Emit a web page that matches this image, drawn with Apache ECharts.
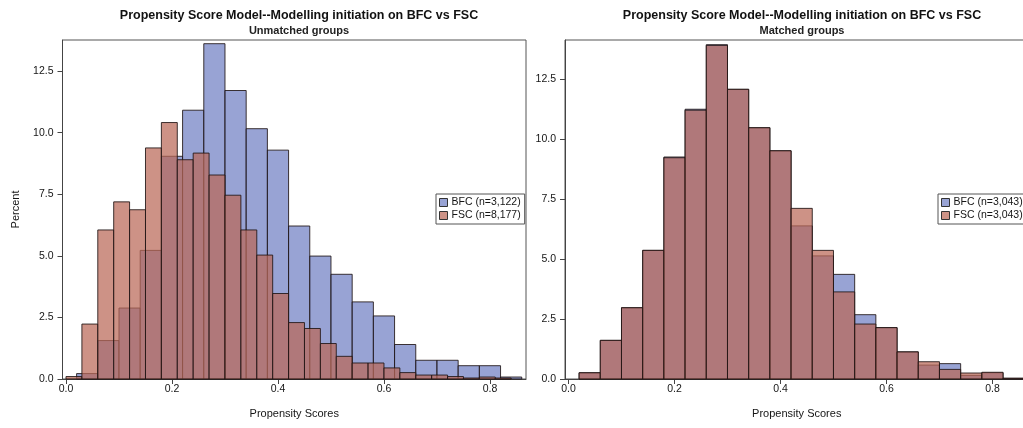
<!DOCTYPE html>
<html><head><meta charset="utf-8">
<script src="https://cdn.jsdelivr.net/npm/echarts@6/dist/echarts.min.js"></script>
<style>html,body{margin:0;padding:0;background:#fff}#c{width:1023px;height:428px}</style>
</head><body><div id="c"></div>
<script>
// ---- data ----
const mainTitle = 'Propensity Score Model--Modelling initiation on BFC vs FSC';
const leftSubtitle = 'Unmatched groups';
const rightSubtitle = 'Matched groups';
const xName = 'Propensity Scores';
const yName = 'Percent';
const xTickValues = [0, 0.2, 0.4, 0.6, 0.8];
const yTickValues = [0, 2.5, 5, 7.5, 10, 12.5];

const leftBfcName = 'BFC (n=3,122)';
const leftFscName = 'FSC (n=8,177)';
const rightBfcName = 'BFC (n=3,043)';
const rightFscName = 'FSC (n=3,043)';

// Unmatched BFC: bin width 0.04
const leftBfcWidth = 0.04;
const leftBfcStart = [0.02,0.06,0.10,0.14,0.18,0.22,0.26,0.30,0.34,0.38,0.42,0.46,0.50,0.54,0.58,0.62,0.66,0.70,0.74,0.78,0.82];
const leftBfcPct   = [0.22,1.56,2.88,5.22,9.04,10.91,13.61,11.71,10.16,9.29,6.21,4.99,4.25,3.13,2.56,1.40,0.76,0.76,0.54,0.54,0.08];

// Unmatched FSC: bin width 0.03
const leftFscWidth = 0.03;
const leftFscStart = [0.00,0.03,0.06,0.09,0.12,0.15,0.18,0.21,0.24,0.27,0.30,0.33,0.36,0.39,0.42,0.45,0.48,0.51,0.54,0.57,0.60,0.63,0.66,0.69,0.72,0.75,0.78,0.81];
const leftFscPct   = [0.10,2.23,6.05,7.19,6.87,9.38,10.41,8.90,9.17,8.28,7.46,6.05,5.03,3.47,2.29,2.05,1.44,0.92,0.65,0.65,0.45,0.26,0.16,0.16,0.10,0.04,0.08,0.04];

// Matched: bin width 0.04 for both
const rightWidth = 0.04;
const rightStart = [0.02,0.06,0.10,0.14,0.18,0.22,0.26,0.30,0.34,0.38,0.42,0.46,0.50,0.54,0.58,0.62,0.66,0.70,0.74,0.78,0.82];
const rightBfcPct = [0.26,1.61,2.97,5.36,9.25,11.24,13.93,12.07,10.47,9.51,6.38,5.13,4.36,2.68,2.14,1.13,0.58,0.64,0.15,0.26,0.03];
const rightFscPct = [0.26,1.61,2.97,5.36,9.22,11.20,13.90,12.07,10.47,9.51,7.11,5.36,3.63,2.29,2.14,1.13,0.72,0.40,0.25,0.28,0.03];

// ---- styling ----
const FONT = 'Liberation Sans, Arial, sans-serif';
const blueFill = 'rgba(112,127,195,0.72)';
const redFill = 'rgba(186,104,88,0.72)';
const edge = 'rgba(30,20,20,0.85)';

function toBins(starts, width, vals) {
  return starts.map((s, i) => [s, +(s + width).toFixed(4), vals[i]]);
}
function renderItem(params, api) {
  const p0 = api.coord([api.value(0), api.value(2)]);
  const p1 = api.coord([api.value(1), 0]);
  return {
    type: 'rect',
    shape: { x: p0[0], y: p0[1], width: p1[0] - p0[0], height: p1[1] - p0[1] },
    style: api.style()
  };
}
function histSeries(name, idx, data, fill) {
  return {
    type: 'custom', name: name, xAxisIndex: idx, yAxisIndex: idx,
    renderItem: renderItem, data: data,
    encode: { x: [0, 1], y: 2 },
    itemStyle: { color: fill, borderColor: edge, borderWidth: 1 },
    silent: true, animation: false
  };
}
function xAxisCfg(idx) {
  return {
    type: 'value', gridIndex: idx, min: -0.0066, max: 0.868,
    name: xName, nameLocation: 'middle', nameGap: 29,
    nameTextStyle: { fontFamily: FONT, fontSize: 11, color: '#151515' },
    splitLine: { show: false },
    axisLine: { show: true, onZero: false, lineStyle: { color: '#444', width: 1 } },
    axisTick: { show: true, length: 5, customValues: xTickValues, lineStyle: { color: '#444' } },
    axisLabel: { customValues: xTickValues, margin: 5, fontFamily: FONT, fontSize: 10.5, color: '#151515',
      formatter: v => v.toFixed(1) }
  };
}
function yAxisCfg(idx, max, withName) {
  const c = {
    type: 'value', gridIndex: idx, min: 0, max: max,
    splitLine: { show: false },
    axisLine: { show: true, onZero: false, lineStyle: { color: '#444', width: 1 } },
    axisTick: { show: true, length: 5, customValues: yTickValues, lineStyle: { color: '#444' } },
    axisLabel: { customValues: yTickValues, margin: 9, fontFamily: FONT, fontSize: 10.5, color: '#151515',
      formatter: v => v.toFixed(1) }
  };
  if (withName) {
    c.name = yName; c.nameLocation = 'middle'; c.nameGap = 41;
    c.nameTextStyle = { fontFamily: FONT, fontSize: 11, color: '#151515' };
  }
  return c;
}
function legendCfg(left, names, fills) {
  return {
    orient: 'vertical', left: left, top: 194,
    data: names.map((n, i) => ({ name: n, icon: 'rect', itemStyle: { color: fills[i], borderColor: '#333', borderWidth: 1 } })),
    itemWidth: 8, itemHeight: 8, itemGap: 2,
    padding: [3, 4, 3, 3],
    backgroundColor: '#fff', borderColor: '#555', borderWidth: 1, borderRadius: 0,
    textStyle: { fontFamily: FONT, fontSize: 10.5, color: '#151515', padding: [0, 0, 0, -1] },
    selectedMode: false
  };
}

const chart = echarts.init(document.getElementById('c'), null, { renderer: 'canvas' });
chart.setOption({
  animation: false,
  backgroundColor: '#fff',
  title: [
    { text: mainTitle, subtext: leftSubtitle, left: 294, top: 4, textAlign: 'center', itemGap: 3,
      textStyle: { fontFamily: FONT, fontSize: 12.5, fontWeight: 'bold', color: '#111' },
      subtextStyle: { fontFamily: FONT, fontSize: 11, fontWeight: 'bold', color: '#222' } },
    { text: mainTitle, subtext: rightSubtitle, left: 797, top: 4, textAlign: 'center', itemGap: 3,
      textStyle: { fontFamily: FONT, fontSize: 12.5, fontWeight: 'bold', color: '#111' },
      subtextStyle: { fontFamily: FONT, fontSize: 11, fontWeight: 'bold', color: '#222' } }
  ],
  grid: [
    { left: 62.5, top: 40, width: 463.5, height: 339, show: true, borderColor: '#555', borderWidth: 1, backgroundColor: 'transparent', outerBoundsMode: 'none' },
    { left: 565, top: 40, width: 463.5, height: 339, show: true, borderColor: '#555', borderWidth: 1, backgroundColor: 'transparent', outerBoundsMode: 'none' }
  ],
  xAxis: [xAxisCfg(0), xAxisCfg(1)],
  yAxis: [yAxisCfg(0, 13.76, true), yAxisCfg(1, 14.125, false)],
  legend: [
    legendCfg(436, [leftBfcName, leftFscName], [blueFill, redFill]),
    legendCfg(938, [rightBfcName, rightFscName], [blueFill, redFill])
  ],
  series: [
    histSeries(leftBfcName, 0, toBins(leftBfcStart, leftBfcWidth, leftBfcPct), blueFill),
    histSeries(leftFscName, 0, toBins(leftFscStart, leftFscWidth, leftFscPct), redFill),
    histSeries(rightBfcName, 1, toBins(rightStart, rightWidth, rightBfcPct), blueFill),
    histSeries(rightFscName, 1, toBins(rightStart, rightWidth, rightFscPct), redFill)
  ]
});
</script></body></html>
